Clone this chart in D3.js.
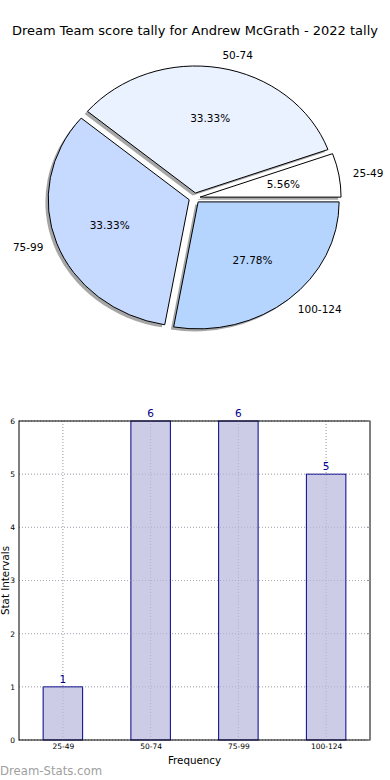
<!DOCTYPE html>
<html>
<head>
<meta charset="utf-8">
<script src="https://cdn.jsdelivr.net/npm/d3@7"></script>
<style>
  html, body { margin: 0; padding: 0; background: #fff; }
  svg { display: block; font-family: "DejaVu Sans", sans-serif; }
</style>
</head>
<body>
<svg id="chart" width="390" height="780"></svg>
<script>
// ---- data ----
const categories = ["25-49", "50-74", "75-99", "100-124"];
const counts = [1, 6, 6, 5];
const sliceColors = ["#ffffff", "#eaf1ff", "#c6d9ff", "#b5d5ff"];
const yTicks = [0, 1, 2, 3, 4, 5, 6];
const titleText = "Dream Team score tally for Andrew McGrath - 2022 tally";

(function () {
const svg = d3.select("#chart");

// ---- title ----
svg.append("text")
  .attr("x", 195).attr("y", 35)
  .attr("text-anchor", "middle")
  .attr("font-size", 13)
  .attr("fill", "#000")
  .text(titleText);

// ---- pie (elliptical, matplotlib style: counterclockwise from 3 o'clock) ----
const cx = 194.5, cy = 198, rx = 141, ry = 127, explode = 0.04;
const R = 100;
const total = d3.sum(counts);
const pie = d3.pie().sort(null).value(d => d)
  .startAngle(Math.PI / 2).endAngle(Math.PI / 2 - 2 * Math.PI);
const arcs = pie(counts);
const arcGen = d3.arc().innerRadius(0).outerRadius(R);

const pieG = svg.append("g")
  .attr("transform", `translate(${cx},${cy}) scale(${rx / R},${ry / R})`);

function offset(d, f) {
  const a = (d.startAngle + d.endAngle) / 2;
  return [Math.sin(a) * R * f, -Math.cos(a) * R * f];
}

// shadows
const shX = -0.02 * R, shY = 0.02 * R;
pieG.selectAll("path.shadow").data(arcs).enter().append("path")
  .attr("class", "shadow")
  .attr("d", arcGen)
  .attr("transform", d => { const o = offset(d, explode); return `translate(${o[0] + shX},${o[1] + shY})`; })
  .attr("fill", "#4d4d4d")
  .attr("fill-opacity", 0.5)
  .attr("stroke", "none");

// slices
pieG.selectAll("path.slice").data(arcs).enter().append("path")
  .attr("class", "slice")
  .attr("d", arcGen)
  .attr("transform", d => { const o = offset(d, explode); return `translate(${o[0]},${o[1]})`; })
  .attr("fill", (d, i) => sliceColors[i])
  .attr("stroke", "#000")
  .attr("stroke-width", 1)
  .attr("vector-effect", "non-scaling-stroke");

// labels
arcs.forEach((d, i) => {
  const a = (d.startAngle + d.endAngle) / 2;
  const ux = Math.sin(a), uy = -Math.cos(a);
  const ox = cx + ux * rx * explode, oy = cy + uy * ry * explode;
  const lx = ox + ux * rx * 1.1, ly = oy + uy * ry * 1.1;
  svg.append("text")
    .attr("x", lx).attr("y", ly)
    .attr("dy", "0.35em")
    .attr("text-anchor", ux > 0 ? "start" : "end")
    .attr("font-size", 10.5)
    .attr("fill", "#000")
    .text(categories[i]);
  const px = ox + ux * rx * 0.6, py = oy + uy * ry * 0.6;
  svg.append("text")
    .attr("x", px).attr("y", py)
    .attr("dy", "0.35em")
    .attr("text-anchor", "middle")
    .attr("font-size", 10.5)
    .attr("fill", "#000")
    .text((counts[i] / total * 100).toFixed(2) + "%");
});

// ---- bar chart ----
const pLeft = 19, pRight = 370, pTop = 421, pBottom = 740;
const x = d3.scaleLinear().domain([-0.5, categories.length - 0.5]).range([pLeft, pRight]);
const y = d3.scaleLinear().domain([0, 6]).range([pBottom, pTop]);
const barW = 0.45;
const g = svg.append("g");

// grid
g.selectAll("line.hgrid").data(yTicks).enter().append("line")
  .attr("x1", pLeft).attr("x2", pRight)
  .attr("y1", d => y(d)).attr("y2", d => y(d))
  .attr("stroke", "#b8b8b8").attr("stroke-width", 1)
  .attr("stroke-dasharray", "1,2");
g.selectAll("line.vgrid").data(categories).enter().append("line")
  .attr("x1", (d, i) => x(i)).attr("x2", (d, i) => x(i))
  .attr("y1", pTop).attr("y2", pBottom)
  .attr("stroke", "#b8b8b8").attr("stroke-width", 1)
  .attr("stroke-dasharray", "1,2");

// bars
g.selectAll("rect.bar").data(counts).enter().append("rect")
  .attr("x", (d, i) => x(i - barW / 2))
  .attr("width", (d, i) => x(i + barW / 2) - x(i - barW / 2))
  .attr("y", d => y(d))
  .attr("height", d => pBottom - y(d))
  .attr("fill", "#ccccE6")
  .attr("stroke", "#00008b")
  .attr("stroke-width", 1);

// grid over bars (matplotlib draws grid on top)
g.selectAll("line.vgrid2").data(categories).enter().append("line")
  .attr("x1", (d, i) => x(i)).attr("x2", (d, i) => x(i))
  .attr("y1", pTop).attr("y2", pBottom)
  .attr("stroke", "#a0a0b8").attr("stroke-width", 1)
  .attr("stroke-dasharray", "1,2").attr("opacity", 0.6);
g.selectAll("line.hgrid2").data(yTicks).enter().append("line")
  .attr("x1", pLeft).attr("x2", pRight)
  .attr("y1", d => y(d)).attr("y2", d => y(d))
  .attr("stroke", "#a0a0b8").attr("stroke-width", 1)
  .attr("stroke-dasharray", "1,2").attr("opacity", 0.6);

// value labels
g.selectAll("text.val").data(counts).enter().append("text")
  .attr("x", (d, i) => x(i))
  .attr("y", d => y(d) - 4)
  .attr("text-anchor", "middle")
  .attr("font-size", 10.5)
  .attr("fill", "#00008b")
  .text(d => d);

// frame
g.append("rect")
  .attr("x", pLeft).attr("y", pTop)
  .attr("width", pRight - pLeft).attr("height", pBottom - pTop)
  .attr("fill", "none").attr("stroke", "#000").attr("stroke-width", 1);

// axes
const yAxis = d3.axisLeft(y).tickValues(yTicks).tickFormat(d3.format("d")).tickSize(0).tickPadding(4);
const ya = svg.append("g").attr("transform", `translate(${pLeft},0)`).call(yAxis);
ya.select(".domain").remove();
ya.selectAll("text").attr("font-size", 7.5).attr("font-family", "DejaVu Sans").attr("fill", "#000");

const xAxis = d3.axisBottom(x).tickValues(categories.map((d, i) => i))
  .tickFormat(i => categories[i]).tickSize(0).tickPadding(4);
const xa = svg.append("g").attr("transform", `translate(0,${pBottom})`).call(xAxis);
xa.select(".domain").remove();
xa.selectAll("text").attr("font-size", 7.5).attr("font-family", "DejaVu Sans").attr("fill", "#000");

// right-side small ticks
g.selectAll("line.rt").data(yTicks).enter().append("line")
  .attr("x1", pRight - 3).attr("x2", pRight)
  .attr("y1", d => y(d)).attr("y2", d => y(d))
  .attr("stroke", "#999");

// axis titles
svg.append("text")
  .attr("x", (pLeft + pRight) / 2).attr("y", 764)
  .attr("text-anchor", "middle")
  .attr("font-size", 10.3)
  .text("Frequency");
svg.append("text")
  .attr("transform", `translate(9,${(pTop + pBottom) / 2}) rotate(-90)`)
  .attr("text-anchor", "middle")
  .attr("font-size", 10.3)
  .text("Stat Intervals");

// watermark
svg.append("text")
  .attr("x", 0).attr("y", 775)
  .attr("font-size", 11.7)
  .attr("fill", "#a0a0a0")
  .text("Dream-Stats.com");
})();
</script>
</body>
</html>
